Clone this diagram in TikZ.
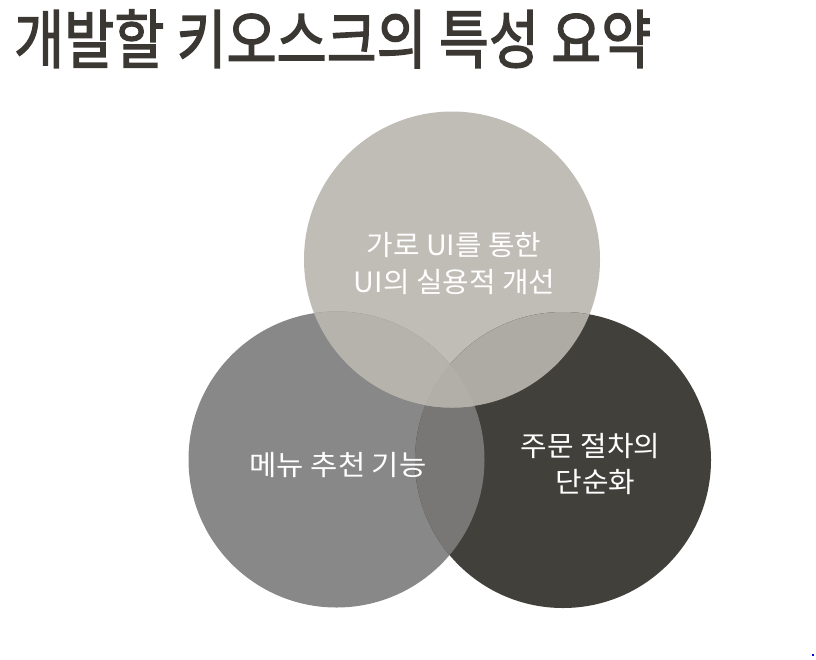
\documentclass[tikz,border=0pt]{standalone}
\usepackage{fontspec}
\setmainfont{Noto Sans CJK KR}
\newfontfamily\titlefont[FakeBold=2.2]{Noto Sans CJK KR}
\usepackage{graphicx}
\definecolor{ctop}{HTML}{C0BCB6}
\definecolor{cleft}{HTML}{888888}
\definecolor{cright}{HTML}{42403B}
\definecolor{ctl}{HTML}{B6B2AC}
\definecolor{ctr}{HTML}{AEAAA4}
\definecolor{clr}{HTML}{787776}
\definecolor{call}{HTML}{B2AEA8}
\definecolor{ctitle}{HTML}{3B3834}
\tikzset{
  circtext/.style={text=white, font=\fontsize{28}{34}\selectfont, inner sep=0pt, anchor=base},
  titletext/.style={text=ctitle, font=\fontsize{64}{70}\titlefont, inner sep=0pt, anchor=base west}
}
\begin{document}
\begin{tikzpicture}[x=1pt,y=-1pt]
\useasboundingbox (0,0) rectangle (816,659);
\fill[white] (0,0) rectangle (816,659);
\def\R{148}
\coordinate (T) at (452,259.5);
\coordinate (L) at (336.5,459.5);
\coordinate (Rc) at (563,460);
\fill[ctop] (T) circle[radius=\R];
\fill[cleft] (L) circle[radius=\R];
\fill[cright] (Rc) circle[radius=\R];
\begin{scope}
  \clip (L) circle[radius=\R];
  \fill[clr] (Rc) circle[radius=\R];
\end{scope}
\begin{scope}
  \clip (T) circle[radius=\R];
  \fill[ctl] (L) circle[radius=\R];
  \fill[ctr] (Rc) circle[radius=\R];
  \clip (L) circle[radius=\R];
  \fill[call] (Rc) circle[radius=\R];
\end{scope}
\node[titletext] (title) at (14,63) {\scalebox{0.85}[1]{개발할 키오스크의 특성 요약}};
\node[circtext] (t1) at (454,255) {\scalebox{1.03}[1]{가로 UI를 통한}};
\node[circtext] (t2) at (454.5,292) {\scalebox{1.03}[1]{UI의 실용적 개선}};
\node[circtext] (l1) at (338,475) {\scalebox{1.06}[1]{메뉴 추천 기능}};
\node[circtext] (r1) at (590.5,456) {\scalebox{1.03}[1]{주문 절차의}};
\node[circtext] (r2) at (595.5,492) {\scalebox{1.03}[1]{단순화}};
\fill[blue] (812,654) rectangle (814,656);
\end{tikzpicture}
\end{document}
